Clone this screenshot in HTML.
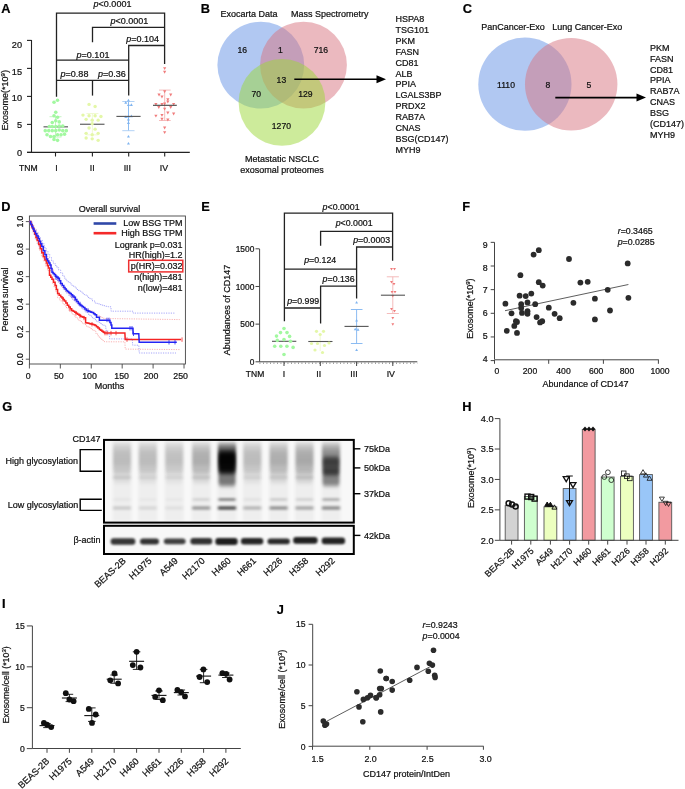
<!DOCTYPE html>
<html><head><meta charset="utf-8"><style>
html,body{margin:0;padding:0;background:#fff;}
svg{display:block;font-family:"Liberation Sans", sans-serif;will-change:transform;}
text{stroke:#111;stroke-width:0.22px;}
</style></head><body>
<svg width="685" height="789" viewBox="0 0 685 789">
<rect width="685" height="789" fill="#fff"/>
<text x="1.3" y="12.5" font-size="12.8" text-anchor="start" font-weight="bold" fill="#000" >A</text>
<line x1="31.5" y1="40" x2="31.5" y2="152.9" stroke="#222" stroke-width="1.1" />
<line x1="27" y1="152.4" x2="31.5" y2="152.4" stroke="#222" stroke-width="1.1" />
<text x="22" y="155.6" font-size="9.2" text-anchor="end" font-weight="normal" fill="#111" >0</text>
<line x1="27" y1="124.4" x2="31.5" y2="124.4" stroke="#222" stroke-width="1.1" />
<text x="22" y="128.3" font-size="9.2" text-anchor="end" font-weight="normal" fill="#111" >5</text>
<line x1="27" y1="96.4" x2="31.5" y2="96.4" stroke="#222" stroke-width="1.1" />
<text x="22" y="101.3" font-size="9.2" text-anchor="end" font-weight="normal" fill="#111" >10</text>
<line x1="27" y1="68.4" x2="31.5" y2="68.4" stroke="#222" stroke-width="1.1" />
<text x="22" y="74.6" font-size="9.2" text-anchor="end" font-weight="normal" fill="#111" >15</text>
<line x1="27" y1="40.4" x2="31.5" y2="40.4" stroke="#222" stroke-width="1.1" />
<text x="22" y="47.5" font-size="9.2" text-anchor="end" font-weight="normal" fill="#111" >20</text>
<line x1="27" y1="152.4" x2="189.8" y2="152.4" stroke="#222" stroke-width="1.1" />
<line x1="55.5" y1="152.4" x2="55.5" y2="156.5" stroke="#222" stroke-width="1.1" />
<line x1="92.4" y1="152.4" x2="92.4" y2="156.5" stroke="#222" stroke-width="1.1" />
<line x1="128.7" y1="152.4" x2="128.7" y2="156.5" stroke="#222" stroke-width="1.1" />
<line x1="164.7" y1="152.4" x2="164.7" y2="156.5" stroke="#222" stroke-width="1.1" />
<text x="19" y="170.5" font-size="8.6" text-anchor="start" font-weight="normal" fill="#111" >TNM</text>
<text x="56.6" y="170.6" font-size="8.8" text-anchor="middle" font-weight="normal" fill="#111" >I</text>
<text x="92.2" y="170.6" font-size="8.8" text-anchor="middle" font-weight="normal" fill="#111" >II</text>
<text x="127.3" y="170.6" font-size="8.8" text-anchor="middle" font-weight="normal" fill="#111" >III</text>
<text x="164" y="170.6" font-size="8.8" text-anchor="middle" font-weight="normal" fill="#111" >IV</text>
<text transform="translate(7.8,100.3) rotate(-90)" font-size="9" text-anchor="middle" fill="#111" >Exosome(*10<tspan dy="-3" font-size="6">9</tspan><tspan dy="3">)</tspan></text>
<polyline points="56.5,96.8 56.5,13.1 164.6,13.1 164.6,64" fill="none" stroke="#222" stroke-width="1.3" />
<polyline points="92.5,42.3 92.5,27.4 164.6,27.4" fill="none" stroke="#222" stroke-width="1.3" />
<polyline points="128.7,95.6 128.7,45.5 164.6,45.5" fill="none" stroke="#222" stroke-width="1.3" />
<line x1="56.5" y1="60.1" x2="128.7" y2="60.1" stroke="#222" stroke-width="1.3" />
<line x1="56.5" y1="80.3" x2="128.7" y2="80.3" stroke="#222" stroke-width="1.3" />
<line x1="92.5" y1="80.3" x2="92.5" y2="95.6" stroke="#222" stroke-width="1.3" />
<text x="93.6" y="7.2" font-size="9" text-anchor="start" font-weight="normal" fill="#111" ><tspan font-style="italic">p</tspan>&lt;0.0001</text>
<text x="110.4" y="24.3" font-size="9" text-anchor="start" font-weight="normal" fill="#111" ><tspan font-style="italic">p</tspan>&lt;0.0001</text>
<text x="126.2" y="41.8" font-size="9" text-anchor="start" font-weight="normal" fill="#111" ><tspan font-style="italic">p</tspan>=0.104</text>
<text x="76.6" y="57.6" font-size="9" text-anchor="start" font-weight="normal" fill="#111" ><tspan font-style="italic">p</tspan>=0.101</text>
<text x="60.6" y="77.4" font-size="9" text-anchor="start" font-weight="normal" fill="#111" ><tspan font-style="italic">p</tspan>=0.88</text>
<text x="98" y="77.4" font-size="9" text-anchor="start" font-weight="normal" fill="#111" ><tspan font-style="italic">p</tspan>=0.36</text>
<line x1="55.5" y1="116.7" x2="55.5" y2="137" stroke="#b8f0b4" stroke-width="0.8" />
<line x1="49.5" y1="116.7" x2="61.5" y2="116.7" stroke="#b8f0b4" stroke-width="0.8" />
<line x1="49.5" y1="137" x2="61.5" y2="137" stroke="#b8f0b4" stroke-width="0.8" />
<line x1="92.4" y1="113.5" x2="92.4" y2="134.8" stroke="#eef9c8" stroke-width="0.8" />
<line x1="86.4" y1="113.5" x2="98.4" y2="113.5" stroke="#eef9c8" stroke-width="0.8" />
<line x1="86.4" y1="134.8" x2="98.4" y2="134.8" stroke="#eef9c8" stroke-width="0.8" />
<line x1="43.5" y1="126.8" x2="68" y2="126.8" stroke="#777" stroke-width="1.4" />
<line x1="80" y1="124.3" x2="104.5" y2="124.3" stroke="#777" stroke-width="1.4" />
<circle cx="54.01" cy="102.28" r="1.8" fill="#a2f8a0" />
<circle cx="57.52" cy="100.29" r="1.8" fill="#a2f8a0" />
<circle cx="55.77" cy="112.32" r="1.8" fill="#a2f8a0" />
<circle cx="54.01" cy="115.82" r="1.8" fill="#a2f8a0" />
<circle cx="57.52" cy="117.23" r="1.8" fill="#a2f8a0" />
<circle cx="52.26" cy="122.48" r="1.8" fill="#a2f8a0" />
<circle cx="55.77" cy="120.73" r="1.8" fill="#a2f8a0" />
<circle cx="59.27" cy="121.9" r="1.8" fill="#a2f8a0" />
<circle cx="49.34" cy="126.57" r="1.8" fill="#a2f8a0" />
<circle cx="52.26" cy="126.57" r="1.8" fill="#a2f8a0" />
<circle cx="55.77" cy="126.57" r="1.8" fill="#a2f8a0" />
<circle cx="59.27" cy="125.99" r="1.8" fill="#a2f8a0" />
<circle cx="62.77" cy="125.99" r="1.8" fill="#a2f8a0" />
<circle cx="45.26" cy="130.66" r="1.8" fill="#a2f8a0" />
<circle cx="48.76" cy="130.66" r="1.8" fill="#a2f8a0" />
<circle cx="52.26" cy="130.66" r="1.8" fill="#a2f8a0" />
<circle cx="55.77" cy="130.66" r="1.8" fill="#a2f8a0" />
<circle cx="59.27" cy="130.07" r="1.8" fill="#a2f8a0" />
<circle cx="62.77" cy="130.66" r="1.8" fill="#a2f8a0" />
<circle cx="66.28" cy="130.66" r="1.8" fill="#a2f8a0" />
<circle cx="47.01" cy="134.74" r="1.8" fill="#a2f8a0" />
<circle cx="50.51" cy="136.5" r="1.8" fill="#a2f8a0" />
<circle cx="54.01" cy="136.5" r="1.8" fill="#a2f8a0" />
<circle cx="57.52" cy="134.74" r="1.8" fill="#a2f8a0" />
<circle cx="61.02" cy="134.74" r="1.8" fill="#a2f8a0" />
<circle cx="64.53" cy="134.16" r="1.8" fill="#a2f8a0" />
<circle cx="54.01" cy="139.42" r="1.8" fill="#a2f8a0" />
<circle cx="57.52" cy="140.35" r="1.8" fill="#a2f8a0" />
<circle cx="89.05" cy="104.38" r="1.7" fill="#e4f7a8" />
<circle cx="95.12" cy="106.48" r="1.7" fill="#e4f7a8" />
<circle cx="82.98" cy="115.12" r="1.7" fill="#e4f7a8" />
<circle cx="89.05" cy="115.82" r="1.7" fill="#e4f7a8" />
<circle cx="95.12" cy="115.82" r="1.7" fill="#e4f7a8" />
<circle cx="100.96" cy="116.53" r="1.7" fill="#e4f7a8" />
<circle cx="86.13" cy="119.33" r="1.7" fill="#e4f7a8" />
<circle cx="92.2" cy="120.15" r="1.7" fill="#e4f7a8" />
<circle cx="98.16" cy="120.15" r="1.7" fill="#e4f7a8" />
<circle cx="92.2" cy="123.65" r="1.7" fill="#e4f7a8" />
<circle cx="89.05" cy="127.97" r="1.7" fill="#e4f7a8" />
<circle cx="95.12" cy="129.14" r="1.7" fill="#e4f7a8" />
<circle cx="86.13" cy="133.34" r="1.7" fill="#e4f7a8" />
<circle cx="98.16" cy="133.34" r="1.7" fill="#e4f7a8" />
<circle cx="92.2" cy="134.74" r="1.7" fill="#e4f7a8" />
<circle cx="86.13" cy="138.01" r="1.7" fill="#e4f7a8" />
<circle cx="92.2" cy="138.83" r="1.7" fill="#e4f7a8" />
<circle cx="98.16" cy="140.35" r="1.7" fill="#e4f7a8" />
<line x1="128.5" y1="101.5" x2="128.5" y2="130.7" stroke="#7fb4f0" stroke-width="0.9" />
<line x1="122.3" y1="101.5" x2="134.5" y2="101.5" stroke="#a9cdf5" stroke-width="0.9" />
<line x1="122.3" y1="130.7" x2="134.5" y2="130.7" stroke="#a9cdf5" stroke-width="0.9" />
<polygon points="128.45,98.69 126.93,101.41 129.97,101.41" fill="#7fb4f0"/>
<polygon points="125.77,101.03 124.25,103.75 127.29,103.75" fill="#7fb4f0"/>
<polygon points="128.45,103.36 126.93,106.08 129.97,106.08" fill="#7fb4f0"/>
<polygon points="131.37,103.36 129.85,106.08 132.89,106.08" fill="#7fb4f0"/>
<polygon points="125.77,115.39 124.25,118.11 127.29,118.11" fill="#7fb4f0"/>
<polygon points="128.45,114.81 126.93,117.53 129.97,117.53" fill="#7fb4f0"/>
<polygon points="131.37,114.46 129.85,117.18 132.89,117.18" fill="#7fb4f0"/>
<polygon points="128.45,117.73 126.93,120.45 129.97,120.45" fill="#7fb4f0"/>
<polygon points="128.45,121.23 126.93,123.95 129.97,123.95" fill="#7fb4f0"/>
<polygon points="128.45,134.9 126.93,137.62 129.97,137.62" fill="#7fb4f0"/>
<polygon points="128.45,141.9 126.93,144.62 129.97,144.62" fill="#7fb4f0"/>
<line x1="116.4" y1="116.4" x2="140.6" y2="116.4" stroke="#555" stroke-width="1.1" />
<line x1="164.7" y1="90.1" x2="164.7" y2="120.5" stroke="#f4b4b4" stroke-width="0.9" />
<line x1="159" y1="90.1" x2="170.7" y2="90.1" stroke="#f4b4b4" stroke-width="0.9" />
<line x1="159" y1="120.5" x2="170.7" y2="120.5" stroke="#f4b4b4" stroke-width="0.9" />
<polygon points="164.66,70.11 163.04,67.22 166.27,67.22" fill="#f07c7c"/>
<polygon points="164.66,73.73 163.04,70.84 166.27,70.84" fill="#f07c7c"/>
<polygon points="164.66,93.23 163.04,90.34 166.27,90.34" fill="#f07c7c"/>
<polygon points="159.05,96.5 157.44,93.61 160.67,93.61" fill="#f07c7c"/>
<polygon points="170.73,96.5 169.11,93.61 172.34,93.61" fill="#f07c7c"/>
<polygon points="161.97,98.49 160.36,95.6 163.59,95.6" fill="#f07c7c"/>
<polygon points="167.81,101.17 166.2,98.28 169.43,98.28" fill="#f07c7c"/>
<polygon points="167.81,103.51 166.2,100.62 169.43,100.62" fill="#f07c7c"/>
<polygon points="164.66,105.5 163.04,102.61 166.27,102.61" fill="#f07c7c"/>
<polygon points="155.9,105.85 154.28,102.96 157.51,102.96" fill="#f07c7c"/>
<polygon points="161.97,105.85 160.36,102.96 163.59,102.96" fill="#f07c7c"/>
<polygon points="173.65,105.85 172.03,102.96 175.26,102.96" fill="#f07c7c"/>
<polygon points="158.82,109 157.2,106.11 160.43,106.11" fill="#f07c7c"/>
<polygon points="170.73,109 169.11,106.11 172.34,106.11" fill="#f07c7c"/>
<polygon points="164.66,110.52 163.04,107.63 166.27,107.63" fill="#f07c7c"/>
<polygon points="167.81,114.49 166.2,111.6 169.43,111.6" fill="#f07c7c"/>
<polygon points="155.9,117.52 154.28,114.63 157.51,114.63" fill="#f07c7c"/>
<polygon points="161.97,116.82 160.36,113.93 163.59,113.93" fill="#f07c7c"/>
<polygon points="173.65,115.42 172.03,112.53 175.26,112.53" fill="#f07c7c"/>
<polygon points="161.97,120.68 160.36,117.79 163.59,117.79" fill="#f07c7c"/>
<polygon points="167.81,121.5 166.2,118.61 169.43,118.61" fill="#f07c7c"/>
<polygon points="164.66,129.44 163.04,126.55 166.27,126.55" fill="#f07c7c"/>
<polygon points="164.66,134.11 163.04,131.22 166.27,131.22" fill="#f07c7c"/>
<line x1="153" y1="105.3" x2="176.8" y2="105.3" stroke="#444" stroke-width="1.1" />
<text x="200.8" y="12.5" font-size="12.8" text-anchor="start" font-weight="bold" fill="#000" >B</text>
<text x="249" y="17" font-size="9" text-anchor="middle" font-weight="normal" fill="#111" >Exocarta Data</text>
<text x="329.8" y="17" font-size="9" text-anchor="middle" font-weight="normal" fill="#111" >Mass Spectrometry</text>
<g>
<circle cx="260.8" cy="65.1" r="43.4" fill="rgb(99,146,230)" fill-opacity="0.5"/>
<circle cx="303.5" cy="65.1" r="43.4" fill="rgb(216,116,128)" fill-opacity="0.5"/>
<circle cx="282" cy="102.3" r="43.4" fill="rgb(155,215,55)" fill-opacity="0.5"/>
</g>
<text x="242.3" y="53.3" font-size="8.6" text-anchor="middle" font-weight="normal" fill="#111" >16</text>
<text x="280.3" y="53.3" font-size="8.6" text-anchor="middle" font-weight="normal" fill="#111" >1</text>
<text x="320.8" y="53.3" font-size="8.6" text-anchor="middle" font-weight="normal" fill="#111" >716</text>
<text x="281.4" y="82.7" font-size="8.6" text-anchor="middle" font-weight="normal" fill="#111" >13</text>
<text x="256.3" y="96.8" font-size="8.6" text-anchor="middle" font-weight="normal" fill="#111" >70</text>
<text x="305.4" y="96.8" font-size="8.6" text-anchor="middle" font-weight="normal" fill="#111" >129</text>
<text x="281.4" y="128.6" font-size="8.6" text-anchor="middle" font-weight="normal" fill="#111" >1270</text>
<line x1="294.3" y1="79.3" x2="378" y2="79.3" stroke="#000" stroke-width="1.6" />
<polygon points="386,79.3 376.5,75.3 376.5,83.3" fill="#000"/>
<text x="282" y="162.2" font-size="9" text-anchor="middle" font-weight="normal" fill="#111" >Metastatic NSCLC</text>
<text x="282" y="172.5" font-size="9" text-anchor="middle" font-weight="normal" fill="#111" >exosomal proteomes</text>
<text x="395.5" y="22" font-size="9" text-anchor="start" font-weight="normal" fill="#111" >HSPA8</text>
<text x="395.5" y="32.9" font-size="9" text-anchor="start" font-weight="normal" fill="#111" >TSG101</text>
<text x="395.5" y="43.8" font-size="9" text-anchor="start" font-weight="normal" fill="#111" >PKM</text>
<text x="395.5" y="54.7" font-size="9" text-anchor="start" font-weight="normal" fill="#111" >FASN</text>
<text x="395.5" y="65.6" font-size="9" text-anchor="start" font-weight="normal" fill="#111" >CD81</text>
<text x="395.5" y="76.5" font-size="9" text-anchor="start" font-weight="normal" fill="#111" >ALB</text>
<text x="395.5" y="87.4" font-size="9" text-anchor="start" font-weight="normal" fill="#111" >PPIA</text>
<text x="395.5" y="98.3" font-size="9" text-anchor="start" font-weight="normal" fill="#111" >LGALS3BP</text>
<text x="395.5" y="109.2" font-size="9" text-anchor="start" font-weight="normal" fill="#111" >PRDX2</text>
<text x="395.5" y="120.1" font-size="9" text-anchor="start" font-weight="normal" fill="#111" >RAB7A</text>
<text x="395.5" y="131" font-size="9" text-anchor="start" font-weight="normal" fill="#111" >CNAS</text>
<text x="395.5" y="141.9" font-size="9" text-anchor="start" font-weight="normal" fill="#111" >BSG(CD147)</text>
<text x="395.5" y="152.8" font-size="9" text-anchor="start" font-weight="normal" fill="#111" >MYH9</text>
<text x="462.8" y="12.5" font-size="12.8" text-anchor="start" font-weight="bold" fill="#000" >C</text>
<text x="513" y="29.5" font-size="9" text-anchor="middle" font-weight="normal" fill="#111" >PanCancer-Exo</text>
<text x="587.3" y="29.5" font-size="9" text-anchor="middle" font-weight="normal" fill="#111" >Lung Cancer-Exo</text>
<circle cx="524.9" cy="84.2" r="46.6" fill="rgb(99,146,230)" fill-opacity="0.5"/>
<circle cx="571.2" cy="84.2" r="46.2" fill="rgb(216,116,128)" fill-opacity="0.5"/>
<text x="506" y="87.5" font-size="8.6" text-anchor="middle" font-weight="normal" fill="#111" >1110</text>
<text x="548" y="87.5" font-size="8.6" text-anchor="middle" font-weight="normal" fill="#111" >8</text>
<text x="588.8" y="87.5" font-size="8.6" text-anchor="middle" font-weight="normal" fill="#111" >5</text>
<line x1="555.3" y1="97.6" x2="637" y2="97.6" stroke="#000" stroke-width="1.6" />
<polygon points="646,97.6 636.5,93.6 636.5,101.6" fill="#000"/>
<text x="649.9" y="50.8" font-size="9" text-anchor="start" font-weight="normal" fill="#111" >PKM</text>
<text x="649.9" y="61.65" font-size="9" text-anchor="start" font-weight="normal" fill="#111" >FASN</text>
<text x="649.9" y="72.5" font-size="9" text-anchor="start" font-weight="normal" fill="#111" >CD81</text>
<text x="649.9" y="83.35" font-size="9" text-anchor="start" font-weight="normal" fill="#111" >PPIA</text>
<text x="649.9" y="94.2" font-size="9" text-anchor="start" font-weight="normal" fill="#111" >RAB7A</text>
<text x="649.9" y="105.05" font-size="9" text-anchor="start" font-weight="normal" fill="#111" >CNAS</text>
<text x="649.9" y="115.9" font-size="9" text-anchor="start" font-weight="normal" fill="#111" >BSG</text>
<text x="649.9" y="126.75" font-size="9" text-anchor="start" font-weight="normal" fill="#111" >(CD147)</text>
<text x="649.9" y="137.6" font-size="9" text-anchor="start" font-weight="normal" fill="#111" >MYH9</text>
<text x="1.3" y="211.4" font-size="12.8" text-anchor="start" font-weight="bold" fill="#000" >D</text>
<text x="109.5" y="211.8" font-size="9" text-anchor="middle" font-weight="normal" fill="#111" >Overall survival</text>
<rect x="29.4" y="216" width="156" height="148" fill="none" stroke="#444" stroke-width="0.9"/>
<line x1="25.8" y1="359.2" x2="29.4" y2="359.2" stroke="#444" stroke-width="0.9" />
<text transform="translate(23.2,359.2) rotate(-90)" font-size="8.6" text-anchor="middle" fill="#111" >0.0</text>
<line x1="25.8" y1="331.68" x2="29.4" y2="331.68" stroke="#444" stroke-width="0.9" />
<text transform="translate(23.2,331.68) rotate(-90)" font-size="8.6" text-anchor="middle" fill="#111" >0.2</text>
<line x1="25.8" y1="304.16" x2="29.4" y2="304.16" stroke="#444" stroke-width="0.9" />
<text transform="translate(23.2,304.16) rotate(-90)" font-size="8.6" text-anchor="middle" fill="#111" >0.4</text>
<line x1="25.8" y1="276.64" x2="29.4" y2="276.64" stroke="#444" stroke-width="0.9" />
<text transform="translate(23.2,276.64) rotate(-90)" font-size="8.6" text-anchor="middle" fill="#111" >0.6</text>
<line x1="25.8" y1="249.12" x2="29.4" y2="249.12" stroke="#444" stroke-width="0.9" />
<text transform="translate(23.2,249.12) rotate(-90)" font-size="8.6" text-anchor="middle" fill="#111" >0.8</text>
<line x1="25.8" y1="221.6" x2="29.4" y2="221.6" stroke="#444" stroke-width="0.9" />
<text transform="translate(23.2,221.6) rotate(-90)" font-size="8.6" text-anchor="middle" fill="#111" >1.0</text>
<line x1="29.4" y1="364" x2="29.4" y2="368.5" stroke="#444" stroke-width="0.9" />
<text x="28.2" y="378.6" font-size="8.8" text-anchor="middle" font-weight="normal" fill="#111" >0</text>
<line x1="60.33" y1="364" x2="60.33" y2="368.5" stroke="#444" stroke-width="0.9" />
<text x="58.8" y="378.6" font-size="8.8" text-anchor="middle" font-weight="normal" fill="#111" >50</text>
<line x1="91.25" y1="364" x2="91.25" y2="368.5" stroke="#444" stroke-width="0.9" />
<text x="89.5" y="378.6" font-size="8.8" text-anchor="middle" font-weight="normal" fill="#111" >100</text>
<line x1="122.18" y1="364" x2="122.18" y2="368.5" stroke="#444" stroke-width="0.9" />
<text x="121.6" y="378.6" font-size="8.8" text-anchor="middle" font-weight="normal" fill="#111" >150</text>
<line x1="153.1" y1="364" x2="153.1" y2="368.5" stroke="#444" stroke-width="0.9" />
<text x="151" y="378.6" font-size="8.8" text-anchor="middle" font-weight="normal" fill="#111" >200</text>
<line x1="184.03" y1="364" x2="184.03" y2="368.5" stroke="#444" stroke-width="0.9" />
<text x="180.6" y="378.6" font-size="8.8" text-anchor="middle" font-weight="normal" fill="#111" >250</text>
<text x="109.5" y="388.5" font-size="9" text-anchor="middle" font-weight="normal" fill="#111" >Months</text>
<text transform="translate(7.8,299.4) rotate(-90)" font-size="9" text-anchor="middle" fill="#111" >Percent survival</text>
<polyline points="29.5,221.6 31.68,221.6 31.68,225.3 33.85,225.3 33.85,229 36.03,229 36.03,232.7 38.2,232.7 38.2,236.4 40.23,236.4 40.23,240.13 42.27,240.13 42.27,243.87 44.3,243.87 44.3,247.6 46.1,247.6 46.1,250.92 47.9,250.92 47.9,254.25 49.7,254.25 49.7,257.57 51.5,257.57 51.5,260.9 53.3,260.9 53.3,263.2 55.1,263.2 55.1,265.5 56.9,265.5 56.9,267.8 58.7,267.8 58.7,270.1 60.73,270.1 60.73,273.17 62.77,273.17 62.77,276.23 64.8,276.23 64.8,279.3 66.58,279.3 66.58,280.82 68.35,280.82 68.35,282.35 70.12,282.35 70.12,283.88 71.9,283.88 71.9,285.4 73.6,285.4 73.6,286.77 75.3,286.77 75.3,288.13 77,288.13 77,289.5 78.8,289.5 78.8,290.77 80.6,290.77 80.6,292.05 82.4,292.05 82.4,293.33 84.2,293.33 84.2,294.6 86.13,294.6 86.13,296.07 88.07,296.07 88.07,297.53 90,297.53 90,299 92.5,299 92.5,301.05 95,301.05 95,303.1 97.2,303.1 97.2,303.85 99.4,303.85 99.4,304.6 101.58,304.6 101.58,305.15 103.75,305.15 103.75,305.7 105.92,305.7 105.92,306.25 108.1,306.25 108.1,306.8 111,306.8 111,311.2 132.2,311.2 133,311.2 133,313.1 175,313.1" fill="none" stroke="#9090f8" stroke-width="0.8" stroke-dasharray="1.2 1.2"/>
<polyline points="29.5,221.6 31.8,221.6 31.8,228.5 34.1,228.5 34.1,235.4 35.8,235.4 35.8,239.47 37.5,239.47 37.5,243.53 39.2,243.53 39.2,247.6 41.27,247.6 41.27,252.03 43.33,252.03 43.33,256.47 45.4,256.47 45.4,260.9 47.1,260.9 47.1,264.3 48.8,264.3 48.8,267.7 50.5,267.7 50.5,271.1 52.2,271.1 52.2,273.83 53.9,273.83 53.9,276.57 55.6,276.57 55.6,279.3 57.63,279.3 57.63,282.03 59.67,282.03 59.67,284.77 61.7,284.77 61.7,287.5 63.4,287.5 63.4,289.53 65.1,289.53 65.1,291.57 66.8,291.57 66.8,293.6 68.6,293.6 68.6,295.45 70.4,295.45 70.4,297.3 72.2,297.3 72.2,299.15 74,299.15 74,301 76,301 76,303 78,303 78,305 80,305 80,307 82,307 82,309 84,309 84,310.75 86,310.75 86,312.5 88,312.5 88,314.25 90,314.25 90,316 92,316 92,317.67 94,317.67 94,319.33 96,319.33 96,321 98,321 98,322.25 100,322.25 100,323.5 102,323.5 102,324.75 104,324.75 104,326 105.87,326 105.87,330.3 107.73,330.3 107.73,334.6 109.6,334.6 109.6,338.9 132.2,338.9 132.7,345.2 138.8,345.2 139.2,353 176,353" fill="none" stroke="#9090f8" stroke-width="0.8" stroke-dasharray="1.2 1.2"/>
<polyline points="29.5,221.6 31.73,221.6 31.73,225.5 33.97,225.5 33.97,229.4 36.2,229.4 36.2,233.3 37.9,233.3 37.9,237.4 39.6,237.4 39.6,241.5 41.3,241.5 41.3,245.6 43,245.6 43,249.33 44.7,249.33 44.7,253.07 46.4,253.07 46.4,256.8 48.1,256.8 48.1,260.9 49.8,260.9 49.8,265 51.5,265 51.5,269.1 53.55,269.1 53.55,273.2 55.6,273.2 55.6,277.3 57.3,277.3 57.3,280 59,280 59,282.7 60.7,282.7 60.7,285.4 62.4,285.4 62.4,287.47 64.1,287.47 64.1,289.53 65.8,289.53 65.8,291.6 67.85,291.6 67.85,293.7 69.9,293.7 69.9,295.8 71.95,295.8 71.95,297.9 74,297.9 74,300 76,300 76,301.75 78,301.75 78,303.5 80,303.5 80,305.25 82,305.25 82,307 84,307 84,308 86,308 86,309 88,309 88,310 90,310 90,311 92.5,311 92.5,312.9 95,312.9 95,314.8 97.2,314.8 97.2,315.73 99.4,315.73 99.4,316.65 101.6,316.65 101.6,317.57 103.8,317.57 103.8,318.5 105.8,318.5 105.8,318.53 107.79,318.53 107.79,318.56 109.79,318.56 109.79,318.59 111.79,318.59 111.79,318.62 113.79,318.62 113.79,318.64 115.78,318.64 115.78,318.67 117.78,318.67 117.78,318.7 119.78,318.7 119.78,318.73 121.78,318.73 121.78,318.76 123.77,318.76 123.77,318.79 125.77,318.79 125.77,318.82 127.77,318.82 127.77,318.85 129.77,318.85 129.77,318.88 131.76,318.88 131.76,318.91 133.76,318.91 133.76,318.93 135.76,318.93 135.76,318.96 137.76,318.96 137.76,318.99 139.75,318.99 139.75,319.02 141.75,319.02 141.75,319.05 143.75,319.05 143.75,319.08 145.74,319.08 145.74,319.11 147.74,319.11 147.74,319.14 149.74,319.14 149.74,319.17 151.74,319.17 151.74,319.19 153.73,319.19 153.73,319.22 155.73,319.22 155.73,319.25 157.73,319.25 157.73,319.28 159.73,319.28 159.73,319.31 161.72,319.31 161.72,319.34 163.72,319.34 163.72,319.37 165.72,319.37 165.72,319.4 167.72,319.4 167.72,319.43 169.71,319.43 169.71,319.46 171.71,319.46 171.71,319.48 173.71,319.48 173.71,319.51 175.71,319.51 175.71,319.54 177.7,319.54 177.7,319.57 179.7,319.57 179.7,319.6" fill="none" stroke="#f8a0a0" stroke-width="0.8" stroke-dasharray="1.2 1.2"/>
<polyline points="29.5,221.6 31.3,221.6 31.3,227.45 33.1,227.45 33.1,233.3 35.15,233.3 35.15,238.95 37.2,238.95 37.2,244.6 39.25,244.6 39.25,250.2 41.3,250.2 41.3,255.8 43.35,255.8 43.35,260.9 45.4,260.9 45.4,266 47.45,266 47.45,270.6 49.5,270.6 49.5,275.2 51,275.2 51,279.3 52.5,279.3 52.5,283.4 54.05,283.4 54.05,287.5 55.6,287.5 55.6,291.6 57.6,291.6 57.6,297.7 59.4,297.7 59.4,299.8 61.2,299.8 61.2,301.9 63,301.9 63,304 64.75,304 64.75,306 66.5,306 66.5,308 68.25,308 68.25,310 70,310 70,312 72,312 72,314 74,314 74,316 76,316 76,318 78,318 78,320 80,320 80,321.5 82,321.5 82,323 84,323 84,324.5 86,324.5 86,326 88,326 88,327.25 90,327.25 90,328.5 92,328.5 92,329.75 94,329.75 94,331 95.8,331 95.8,333.4 97.6,333.4 97.6,335.8 99.4,335.8 99.4,338.2 101.1,338.2 101.1,339.4 102.8,339.4 102.8,340.6 104.5,340.6 104.5,341.8 124.9,341.8 125.2,349.1 179.7,349.6" fill="none" stroke="#f8a0a0" stroke-width="0.8" stroke-dasharray="1.2 1.2"/>
<polyline points="29.5,221.6 30.87,221.6 30.87,224.83 32.23,224.83 32.23,228.07 33.6,228.07 33.6,231.3 34.8,231.3 34.8,234.37 36,234.37 36,237.43 37.2,237.43 37.2,240.5 38.75,240.5 38.75,244.6 40.3,244.6 40.3,248.7 41.8,248.7 41.8,252.75 43.3,252.75 43.3,256.8 44.85,256.8 44.85,259.9 46.4,259.9 46.4,263 47.4,263 47.4,265.55 48.4,265.55 48.4,268.1 49.5,268.1 49.5,275.2 50.75,275.2 50.75,277.25 52,277.25 52,279.3 53.55,279.3 53.55,282.35 55.1,282.35 55.1,285.4 56.35,285.4 56.35,289.5 57.6,289.5 57.6,293.6 59.15,293.6 59.15,295.15 60.7,295.15 60.7,296.7 61.93,296.7 61.93,298.1 63.17,298.1 63.17,299.5 64.4,299.5 64.4,300.9 65.85,300.9 65.85,303.1 67.3,303.1 67.3,305.3 68.77,305.3 68.77,307 70.23,307 70.23,308.7 71.7,308.7 71.7,310.4 73.17,310.4 73.17,311.37 74.63,311.37 74.63,312.33 76.1,312.33 76.1,313.3 77.57,313.3 77.57,314.27 79.03,314.27 79.03,315.23 80.5,315.23 80.5,316.2 81.7,316.2 81.7,316.7 82.9,316.7 82.9,317.2 84.1,317.2 84.1,317.7 85.6,317.7 85.6,322.8 86.92,322.8 86.92,323.08 88.24,323.08 88.24,323.36 89.56,323.36 89.56,323.64 90.88,323.64 90.88,323.92 92.2,323.92 92.2,324.2 93.6,324.2 93.6,324.85 95,324.85 95,325.5 96.47,325.5 96.47,326.8 97.93,326.8 97.93,328.1 99.4,328.1 99.4,329.4 100.68,329.4 100.68,330.32 101.95,330.32 101.95,331.25 103.22,331.25 103.22,332.18 104.5,332.18 104.5,333.1 124.9,333.1 125.2,339.6 181.1,339.6" fill="none" stroke="#f42424" stroke-width="1.5" />
<polyline points="29.5,221.6 30.65,221.6 30.65,224.03 31.8,224.03 31.8,226.45 32.95,226.45 32.95,228.88 34.1,228.88 34.1,231.3 35.47,231.3 35.47,233.67 36.83,233.67 36.83,236.03 38.2,236.03 38.2,238.4 39.4,238.4 39.4,241.13 40.6,241.13 40.6,243.87 41.8,243.87 41.8,246.6 43.35,246.6 43.35,250.7 44.9,250.7 44.9,254.8 46.4,254.8 46.4,258.9 47.6,258.9 47.6,260.93 48.8,260.93 48.8,262.97 50,262.97 50,265 51,265 51,268.6 52,268.6 52,272.2 53.2,272.2 53.2,273.53 54.4,273.53 54.4,274.87 55.6,274.87 55.6,276.2 56.85,276.2 56.85,277.25 58.1,277.25 58.1,278.3 59.4,278.3 59.4,280.85 60.7,280.85 60.7,283.4 62.25,283.4 62.25,285.45 63.8,285.45 63.8,287.5 65.05,287.5 65.05,289.05 66.3,289.05 66.3,290.6 67.5,290.6 67.5,291.6 68.7,291.6 68.7,292.6 69.9,292.6 69.9,293.6 71.27,293.6 71.27,294.8 72.63,294.8 72.63,296 74,296 74,297.2 75.4,297.2 75.4,299.6 76.85,299.6 76.85,301.6 78.3,301.6 78.3,303.6 79.58,303.6 79.58,304.55 80.85,304.55 80.85,305.5 82.12,305.5 82.12,306.45 83.4,306.45 83.4,307.4 84.85,307.4 84.85,308.9 86.3,308.9 86.3,310.4 87.48,310.4 87.48,310.84 88.66,310.84 88.66,311.28 89.84,311.28 89.84,311.72 91.02,311.72 91.02,312.16 92.2,312.16 92.2,312.6 93.6,312.6 93.6,313.65 95,313.65 95,314.7 96.5,314.7 96.5,317.2 99.4,317.2 99.4,320.2 108.9,320.2 109.95,320.2 109.95,322.6 111,322.6 111,325 111.8,325 111.8,328.2 132.2,328.2 133,328.2 133,333.8 138.8,333.8 139.2,342.3 176.8,342.3" fill="none" stroke="#2424f4" stroke-width="1.5" />
<line x1="56" y1="275.3" x2="56" y2="279.7" stroke="#2424f4" stroke-width="0.8" />
<line x1="58" y1="276.3" x2="58" y2="280.7" stroke="#2424f4" stroke-width="0.8" />
<line x1="72" y1="293.8" x2="72" y2="298.2" stroke="#2424f4" stroke-width="0.8" />
<line x1="75" y1="296.8" x2="75" y2="301.2" stroke="#2424f4" stroke-width="0.8" />
<line x1="80" y1="301.8" x2="80" y2="306.2" stroke="#2424f4" stroke-width="0.8" />
<line x1="88" y1="308.3" x2="88" y2="312.7" stroke="#2424f4" stroke-width="0.8" />
<line x1="107" y1="317.7" x2="107" y2="322.1" stroke="#2424f4" stroke-width="0.8" />
<line x1="109" y1="317.7" x2="109" y2="322.1" stroke="#2424f4" stroke-width="0.8" />
<line x1="130" y1="326" x2="130" y2="330.4" stroke="#2424f4" stroke-width="0.8" />
<line x1="132" y1="326" x2="132" y2="330.4" stroke="#2424f4" stroke-width="0.8" />
<line x1="133.5" y1="331.6" x2="133.5" y2="336" stroke="#2424f4" stroke-width="0.8" />
<line x1="169" y1="340.1" x2="169" y2="344.5" stroke="#2424f4" stroke-width="0.8" />
<line x1="175" y1="340.1" x2="175" y2="344.5" stroke="#2424f4" stroke-width="0.8" />
<line x1="63" y1="296.8" x2="63" y2="301.2" stroke="#f42424" stroke-width="0.8" />
<line x1="70" y1="306.8" x2="70" y2="311.2" stroke="#f42424" stroke-width="0.8" />
<line x1="76" y1="311.1" x2="76" y2="315.5" stroke="#f42424" stroke-width="0.8" />
<line x1="80" y1="313.8" x2="80" y2="318.2" stroke="#f42424" stroke-width="0.8" />
<line x1="84" y1="315.8" x2="84" y2="320.2" stroke="#f42424" stroke-width="0.8" />
<line x1="92" y1="322" x2="92" y2="326.4" stroke="#f42424" stroke-width="0.8" />
<line x1="105" y1="330.9" x2="105" y2="335.3" stroke="#f42424" stroke-width="0.8" />
<line x1="107" y1="330.9" x2="107" y2="335.3" stroke="#f42424" stroke-width="0.8" />
<line x1="111" y1="330.9" x2="111" y2="335.3" stroke="#f42424" stroke-width="0.8" />
<line x1="116" y1="330.9" x2="116" y2="335.3" stroke="#f42424" stroke-width="0.8" />
<line x1="127" y1="337.4" x2="127" y2="341.8" stroke="#f42424" stroke-width="0.8" />
<line x1="182" y1="337.4" x2="182" y2="341.8" stroke="#f42424" stroke-width="0.8" />
<line x1="93.6" y1="223.5" x2="116.3" y2="223.5" stroke="#3048a8" stroke-width="2.6" />
<line x1="93.6" y1="233.2" x2="116.3" y2="233.2" stroke="#f42a2a" stroke-width="2.6" />
<text x="182.6" y="225.8" font-size="9" text-anchor="end" font-weight="normal" fill="#111" >Low BSG TPM</text>
<text x="182.6" y="236.2" font-size="9" text-anchor="end" font-weight="normal" fill="#111" >High BSG TPM</text>
<text x="182.6" y="247.7" font-size="9" text-anchor="end" font-weight="normal" fill="#111" >Logrank p=0.031</text>
<text x="182.6" y="258.2" font-size="9" text-anchor="end" font-weight="normal" fill="#111" >HR(high)=1.2</text>
<text x="182.6" y="268.8" font-size="9" text-anchor="end" font-weight="normal" fill="#111" >p(HR)=0.032</text>
<text x="182.6" y="279.9" font-size="9" text-anchor="end" font-weight="normal" fill="#111" >n(high)=481</text>
<text x="182.6" y="290.9" font-size="9" text-anchor="end" font-weight="normal" fill="#111" >n(low)=481</text>
<rect x="128.7" y="260.3" width="54.1" height="11.6" fill="none" stroke="#ee3030" stroke-width="1.5"/>
<text x="201.3" y="211.4" font-size="12.8" text-anchor="start" font-weight="bold" fill="#000" >E</text>
<line x1="259.6" y1="249" x2="259.6" y2="361.8" stroke="#444" stroke-width="1" />
<line x1="255.5" y1="361.8" x2="259.6" y2="361.8" stroke="#444" stroke-width="1" />
<text x="254.3" y="364.9" font-size="8.4" text-anchor="end" font-weight="normal" fill="#111" >0</text>
<line x1="255.5" y1="324.13" x2="259.6" y2="324.13" stroke="#444" stroke-width="1" />
<text x="254.3" y="327.24" font-size="8.4" text-anchor="end" font-weight="normal" fill="#111" >500</text>
<line x1="255.5" y1="286.47" x2="259.6" y2="286.47" stroke="#444" stroke-width="1" />
<text x="254.3" y="289.57" font-size="8.4" text-anchor="end" font-weight="normal" fill="#111" >1000</text>
<line x1="255.5" y1="248.81" x2="259.6" y2="248.81" stroke="#444" stroke-width="1" />
<text x="254.3" y="251.91" font-size="8.4" text-anchor="end" font-weight="normal" fill="#111" >1500</text>
<line x1="259.6" y1="361.8" x2="417.3" y2="361.8" stroke="#444" stroke-width="1" />
<line x1="259.6" y1="363.2" x2="417.3" y2="363.2" stroke="#777" stroke-width="1.6" stroke-dasharray="0.7 2.8"/>
<line x1="284" y1="361.8" x2="284" y2="366" stroke="#444" stroke-width="1" />
<line x1="320.3" y1="361.8" x2="320.3" y2="366" stroke="#444" stroke-width="1" />
<line x1="356.6" y1="361.8" x2="356.6" y2="366" stroke="#444" stroke-width="1" />
<line x1="392.8" y1="361.8" x2="392.8" y2="366" stroke="#444" stroke-width="1" />
<text x="245.8" y="376.8" font-size="8.5" text-anchor="start" font-weight="normal" fill="#111" >TNM</text>
<text x="284" y="377" font-size="8.8" text-anchor="middle" font-weight="normal" fill="#111" >I</text>
<text x="318.7" y="377" font-size="8.8" text-anchor="middle" font-weight="normal" fill="#111" >II</text>
<text x="354" y="377" font-size="8.8" text-anchor="middle" font-weight="normal" fill="#111" >III</text>
<text x="390.8" y="377" font-size="8.8" text-anchor="middle" font-weight="normal" fill="#111" >IV</text>
<text transform="translate(229.5,310) rotate(-90)" font-size="9" text-anchor="middle" fill="#111" >Abundances of CD147</text>
<polyline points="284.4,321.2 284.4,213.2 392.6,213.2 392.6,260.7" fill="none" stroke="#222" stroke-width="1.3" />
<polyline points="320.6,245.8 320.6,231.3 392.6,231.3" fill="none" stroke="#222" stroke-width="1.3" />
<polyline points="356.6,298.5 356.6,247 392.6,247" fill="none" stroke="#222" stroke-width="1.3" />
<line x1="284.4" y1="269.1" x2="356.6" y2="269.1" stroke="#222" stroke-width="1.3" />
<polyline points="320.6,323.6 320.6,286.1 356.6,286.1" fill="none" stroke="#222" stroke-width="1.3" />
<polyline points="284.4,308 320.6,308" fill="none" stroke="#222" stroke-width="1.3" />
<text x="322.6" y="210.1" font-size="8.8" text-anchor="start" font-weight="normal" fill="#111" ><tspan font-style="italic">p</tspan>&lt;0.0001</text>
<text x="335.7" y="226.2" font-size="8.8" text-anchor="start" font-weight="normal" fill="#111" ><tspan font-style="italic">p</tspan>&lt;0.0001</text>
<text x="353.2" y="242.9" font-size="8.8" text-anchor="start" font-weight="normal" fill="#111" ><tspan font-style="italic">p</tspan>=0.0003</text>
<text x="304.2" y="263.4" font-size="8.8" text-anchor="start" font-weight="normal" fill="#111" ><tspan font-style="italic">p</tspan>=0.124</text>
<text x="322.6" y="281.9" font-size="8.8" text-anchor="start" font-weight="normal" fill="#111" ><tspan font-style="italic">p</tspan>=0.136</text>
<text x="287.2" y="304.2" font-size="8.8" text-anchor="start" font-weight="normal" fill="#111" ><tspan font-style="italic">p</tspan>=0.999</text>
<line x1="272" y1="341.3" x2="296.3" y2="341.3" stroke="#555" stroke-width="1.1" />
<circle cx="284" cy="328.5" r="1.8" fill="#a2f8a0" />
<circle cx="280.5" cy="332.6" r="1.8" fill="#a2f8a0" />
<circle cx="287" cy="332.6" r="1.8" fill="#a2f8a0" />
<circle cx="276.5" cy="336.1" r="1.8" fill="#a2f8a0" />
<circle cx="289.6" cy="336.4" r="1.8" fill="#a2f8a0" />
<circle cx="284" cy="339.6" r="1.8" fill="#a2f8a0" />
<circle cx="277.3" cy="340.4" r="1.8" fill="#a2f8a0" />
<circle cx="290.5" cy="341.3" r="1.8" fill="#a2f8a0" />
<circle cx="274.7" cy="346.2" r="1.8" fill="#a2f8a0" />
<circle cx="280.8" cy="346.2" r="1.8" fill="#a2f8a0" />
<circle cx="286.9" cy="346.2" r="1.8" fill="#a2f8a0" />
<circle cx="293.1" cy="347.4" r="1.8" fill="#a2f8a0" />
<circle cx="284" cy="354.5" r="1.8" fill="#a2f8a0" />
<line x1="320.2" y1="333" x2="320.2" y2="351" stroke="#eef9c8" stroke-width="0.8" />
<line x1="308.3" y1="341.5" x2="332.5" y2="341.5" stroke="#555" stroke-width="1.1" />
<circle cx="316.5" cy="331.3" r="1.6" fill="#e4f7a8" />
<circle cx="323.5" cy="331.3" r="1.6" fill="#e4f7a8" />
<circle cx="320.2" cy="334.5" r="1.6" fill="#e4f7a8" />
<circle cx="311.5" cy="343.5" r="1.6" fill="#e4f7a8" />
<circle cx="317.5" cy="343.5" r="1.6" fill="#e4f7a8" />
<circle cx="324.5" cy="345.5" r="1.6" fill="#e4f7a8" />
<circle cx="329" cy="343" r="1.6" fill="#e4f7a8" />
<circle cx="315" cy="350" r="1.6" fill="#e4f7a8" />
<circle cx="322.5" cy="352.5" r="1.6" fill="#e4f7a8" />
<line x1="356.6" y1="309.5" x2="356.6" y2="343.5" stroke="#7fb4f0" stroke-width="0.9" />
<line x1="350.9" y1="309.5" x2="362.5" y2="309.5" stroke="#7fb4f0" stroke-width="0.9" />
<line x1="350.9" y1="343.5" x2="362.5" y2="343.5" stroke="#7fb4f0" stroke-width="0.9" />
<polygon points="356.6,301 355.18,303.55 358.03,303.55" fill="#7fb4f0"/>
<polygon points="356.6,319 355.18,321.55 358.03,321.55" fill="#7fb4f0"/>
<polygon points="355.2,327.7 353.77,330.25 356.62,330.25" fill="#7fb4f0"/>
<polygon points="358,328.1 356.57,330.65 359.43,330.65" fill="#7fb4f0"/>
<polygon points="356.6,348.5 355.18,351.05 358.03,351.05" fill="#7fb4f0"/>
<line x1="344.5" y1="326.4" x2="368.6" y2="326.4" stroke="#555" stroke-width="1.1" />
<line x1="392.8" y1="276.8" x2="392.8" y2="313.5" stroke="#f4b4b4" stroke-width="0.9" />
<line x1="386.8" y1="276.8" x2="398.9" y2="276.8" stroke="#f4b4b4" stroke-width="0.9" />
<line x1="386.8" y1="313.5" x2="398.9" y2="313.5" stroke="#f4b4b4" stroke-width="0.9" />
<polygon points="391.5,270.5 390.07,267.95 392.93,267.95" fill="#f07c7c"/>
<polygon points="394.5,270.5 393.07,267.95 395.93,267.95" fill="#f07c7c"/>
<polygon points="391.5,283.5 390.07,280.95 392.93,280.95" fill="#f07c7c"/>
<polygon points="394,285.5 392.57,282.95 395.43,282.95" fill="#f07c7c"/>
<polygon points="392,293.5 390.57,290.95 393.43,290.95" fill="#f07c7c"/>
<polygon points="395,293.5 393.57,290.95 396.43,290.95" fill="#f07c7c"/>
<polygon points="392.8,297.5 391.38,294.95 394.23,294.95" fill="#f07c7c"/>
<polygon points="391.5,310.5 390.07,307.95 392.93,307.95" fill="#f07c7c"/>
<polygon points="394.5,312.5 393.07,309.95 395.93,309.95" fill="#f07c7c"/>
<polygon points="392.8,319.5 391.38,316.95 394.23,316.95" fill="#f07c7c"/>
<polygon points="392.8,325.7 391.38,323.15 394.23,323.15" fill="#f07c7c"/>
<line x1="380.9" y1="295.2" x2="405" y2="295.2" stroke="#555" stroke-width="1.1" />
<text x="462.3" y="211.4" font-size="12.8" text-anchor="start" font-weight="bold" fill="#000" >F</text>
<line x1="494.5" y1="242.3" x2="494.5" y2="359.4" stroke="#444" stroke-width="1" />
<line x1="490.7" y1="360.6" x2="494.5" y2="360.6" stroke="#444" stroke-width="1" />
<text x="487.7" y="362" font-size="8.8" text-anchor="end" font-weight="normal" fill="#111" >4</text>
<line x1="490.7" y1="336.95" x2="494.5" y2="336.95" stroke="#444" stroke-width="1" />
<text x="487.7" y="339.14" font-size="8.8" text-anchor="end" font-weight="normal" fill="#111" >5</text>
<line x1="490.7" y1="313.3" x2="494.5" y2="313.3" stroke="#444" stroke-width="1" />
<text x="487.7" y="316.28" font-size="8.8" text-anchor="end" font-weight="normal" fill="#111" >6</text>
<line x1="490.7" y1="289.65" x2="494.5" y2="289.65" stroke="#444" stroke-width="1" />
<text x="487.7" y="293.42" font-size="8.8" text-anchor="end" font-weight="normal" fill="#111" >7</text>
<line x1="490.7" y1="266" x2="494.5" y2="266" stroke="#444" stroke-width="1" />
<text x="487.7" y="270.56" font-size="8.8" text-anchor="end" font-weight="normal" fill="#111" >8</text>
<line x1="490.7" y1="242.35" x2="494.5" y2="242.35" stroke="#444" stroke-width="1" />
<text x="487.7" y="247.7" font-size="8.8" text-anchor="end" font-weight="normal" fill="#111" >9</text>
<line x1="494.5" y1="359.8" x2="658.8" y2="359.8" stroke="#444" stroke-width="1" />
<line x1="494.5" y1="359.8" x2="494.5" y2="363.8" stroke="#444" stroke-width="1" />
<line x1="548.7" y1="359.8" x2="548.7" y2="363.8" stroke="#444" stroke-width="1" />
<line x1="603.4" y1="359.8" x2="603.4" y2="363.8" stroke="#444" stroke-width="1" />
<line x1="658.4" y1="359.8" x2="658.4" y2="363.8" stroke="#444" stroke-width="1" />
<text x="497" y="373.5" font-size="8.6" text-anchor="middle" font-weight="normal" fill="#111" >0</text>
<text x="530" y="373.5" font-size="8.6" text-anchor="middle" font-weight="normal" fill="#111" >200</text>
<text x="563.5" y="373.5" font-size="8.6" text-anchor="middle" font-weight="normal" fill="#111" >400</text>
<text x="596.2" y="373.5" font-size="8.6" text-anchor="middle" font-weight="normal" fill="#111" >600</text>
<text x="627" y="373.5" font-size="8.6" text-anchor="middle" font-weight="normal" fill="#111" >800</text>
<text x="660" y="373.5" font-size="8.6" text-anchor="middle" font-weight="normal" fill="#111" >1000</text>
<text x="585.6" y="387.4" font-size="9" text-anchor="middle" font-weight="normal" fill="#111" >Abundance of CD147</text>
<text transform="translate(473.4,308.6) rotate(-90)" font-size="9" text-anchor="middle" fill="#111" >Exosome(*10<tspan dy="-3" font-size="6">9</tspan><tspan dy="3">)</tspan></text>
<line x1="505" y1="310.7" x2="628.4" y2="284.5" stroke="#333" stroke-width="0.8" />
<circle cx="520.4" cy="275.2" r="2.9" fill="#2b2b2b" />
<circle cx="533.6" cy="254.6" r="2.9" fill="#2b2b2b" />
<circle cx="538.8" cy="250.2" r="2.9" fill="#2b2b2b" />
<circle cx="569" cy="259" r="2.9" fill="#2b2b2b" />
<circle cx="538.8" cy="282.2" r="2.9" fill="#2b2b2b" />
<circle cx="542.7" cy="285.6" r="2.9" fill="#2b2b2b" />
<circle cx="519.6" cy="295.7" r="2.9" fill="#2b2b2b" />
<circle cx="525.7" cy="296.1" r="2.9" fill="#2b2b2b" />
<circle cx="531.3" cy="293.6" r="2.9" fill="#2b2b2b" />
<circle cx="505.4" cy="303.7" r="2.9" fill="#2b2b2b" />
<circle cx="506.8" cy="330.8" r="2.9" fill="#2b2b2b" />
<circle cx="511.5" cy="313.3" r="2.9" fill="#2b2b2b" />
<circle cx="514.3" cy="325.9" r="2.9" fill="#2b2b2b" />
<circle cx="515.9" cy="321.2" r="2.9" fill="#2b2b2b" />
<circle cx="517" cy="322" r="2.9" fill="#2b2b2b" />
<circle cx="517" cy="332.9" r="2.9" fill="#2b2b2b" />
<circle cx="521.2" cy="304.2" r="2.9" fill="#2b2b2b" />
<circle cx="521.2" cy="308" r="2.9" fill="#2b2b2b" />
<circle cx="522" cy="312.9" r="2.9" fill="#2b2b2b" />
<circle cx="527.5" cy="302.4" r="2.9" fill="#2b2b2b" />
<circle cx="527.5" cy="311.2" r="2.9" fill="#2b2b2b" />
<circle cx="527.5" cy="313.8" r="2.9" fill="#2b2b2b" />
<circle cx="535.2" cy="304.2" r="2.9" fill="#2b2b2b" />
<circle cx="536.6" cy="317.1" r="2.9" fill="#2b2b2b" />
<circle cx="540.1" cy="322.4" r="2.9" fill="#2b2b2b" />
<circle cx="542.2" cy="321.2" r="2.9" fill="#2b2b2b" />
<circle cx="548.8" cy="307.7" r="2.9" fill="#2b2b2b" />
<circle cx="554.6" cy="313.8" r="2.9" fill="#2b2b2b" />
<circle cx="559.7" cy="318.2" r="2.9" fill="#2b2b2b" />
<circle cx="573.4" cy="302.8" r="2.9" fill="#2b2b2b" />
<circle cx="580.4" cy="282.6" r="2.9" fill="#2b2b2b" />
<circle cx="587.7" cy="281.8" r="2.9" fill="#2b2b2b" />
<circle cx="627.7" cy="263.4" r="2.9" fill="#2b2b2b" />
<circle cx="607.7" cy="289.8" r="2.9" fill="#2b2b2b" />
<circle cx="594.9" cy="298.7" r="2.9" fill="#2b2b2b" />
<circle cx="628.4" cy="297.8" r="2.9" fill="#2b2b2b" />
<circle cx="610" cy="310.5" r="2.9" fill="#2b2b2b" />
<circle cx="594.9" cy="319.4" r="2.9" fill="#2b2b2b" />
<text x="617.7" y="234.2" font-size="8.8" text-anchor="start" font-weight="normal" fill="#111" ><tspan font-style="italic">r</tspan>=0.3465</text>
<text x="617.7" y="244.8" font-size="8.8" text-anchor="start" font-weight="normal" fill="#111" ><tspan font-style="italic">p</tspan>=0.0285</text>
<text x="2.3" y="410.7" font-size="12.8" text-anchor="start" font-weight="bold" fill="#000" >G</text>
<text x="100.6" y="441.6" font-size="9" text-anchor="end" font-weight="normal" fill="#111" >CD147</text>
<text x="5.4" y="464" font-size="9" text-anchor="start" font-weight="normal" fill="#111" >High glycosylation</text>
<text x="7.8" y="508" font-size="9" text-anchor="start" font-weight="normal" fill="#111" >Low glycosylation</text>
<text x="100.6" y="543.4" font-size="9" text-anchor="end" font-weight="normal" fill="#111" >β-actin</text>
<polyline points="101.8,449.6 80.2,449.6 80.2,471.2 101.8,471.2" fill="none" stroke="#000" stroke-width="1.4" />
<polyline points="101.8,499.2 80.2,499.2 80.2,510.4 101.8,510.4" fill="none" stroke="#000" stroke-width="1.4" />
<defs><filter id="bl1" x="-40%" y="-40%" width="180%" height="180%"><feGaussianBlur stdDeviation="1.8 2.2"/></filter><filter id="bl0" x="-40%" y="-10%" width="180%" height="120%"><feGaussianBlur stdDeviation="1.5 1"/></filter><filter id="bl2" x="-30%" y="-150%" width="160%" height="400%"><feGaussianBlur stdDeviation="1.4 1.0"/></filter><filter id="bl3" x="-30%" y="-100%" width="160%" height="300%"><feGaussianBlur stdDeviation="1.0 0.9"/></filter><linearGradient id="sg" x1="0" y1="0" x2="0" y2="1"><stop offset="0" stop-color="#000" stop-opacity="0.35"/><stop offset="0.3" stop-color="#000" stop-opacity="0.9"/><stop offset="0.65" stop-color="#000" stop-opacity="1"/><stop offset="1" stop-color="#000" stop-opacity="0.5"/></linearGradient><clipPath id="cpA"><rect x="104" y="440.5" width="249" height="81.5"/></clipPath><clipPath id="cpB"><rect x="104" y="527.5" width="249" height="26"/></clipPath></defs>
<rect x="103" y="439.7" width="251" height="83" fill="#f8f8f8"/>
<rect x="103" y="526.5" width="251" height="28" fill="#f8f8f8"/>
<g clip-path="url(#cpA)">
<rect x="112.5" y="441" width="19" height="80" fill="#000" fill-opacity="0.04" filter="url(#bl0)"/>
<rect x="113" y="443" width="18" height="30" rx="2" fill="url(#sg)" fill-opacity="0.22" filter="url(#bl1)"/>
<rect x="113.5" y="470" width="17" height="13" rx="3" fill="#000" fill-opacity="0.08" filter="url(#bl1)"/>
<rect x="113" y="475.8" width="18" height="3.2" fill="#000" fill-opacity="0.09" filter="url(#bl2)"/>
<rect x="113.5" y="498.2" width="17" height="2.6" fill="#000" fill-opacity="0.04" filter="url(#bl2)"/>
<rect x="113" y="506.2" width="18" height="3.6" fill="#000" fill-opacity="0.14" filter="url(#bl2)"/>
<rect x="138.3" y="441" width="19" height="80" fill="#000" fill-opacity="0.04" filter="url(#bl0)"/>
<rect x="138.8" y="443" width="18" height="30" rx="2" fill="url(#sg)" fill-opacity="0.22" filter="url(#bl1)"/>
<rect x="139.3" y="470" width="17" height="13" rx="3" fill="#000" fill-opacity="0.07" filter="url(#bl1)"/>
<rect x="138.8" y="475.8" width="18" height="3.2" fill="#000" fill-opacity="0.06" filter="url(#bl2)"/>
<rect x="139.3" y="498.2" width="17" height="2.6" fill="#000" fill-opacity="0.03" filter="url(#bl2)"/>
<rect x="138.8" y="506.2" width="18" height="3.6" fill="#000" fill-opacity="0.09" filter="url(#bl2)"/>
<rect x="164.7" y="441" width="19" height="80" fill="#000" fill-opacity="0.04" filter="url(#bl0)"/>
<rect x="165.2" y="443" width="18" height="30" rx="2" fill="url(#sg)" fill-opacity="0.2" filter="url(#bl1)"/>
<rect x="165.7" y="470" width="17" height="13" rx="3" fill="#000" fill-opacity="0.06" filter="url(#bl1)"/>
<rect x="165.2" y="475.8" width="18" height="3.2" fill="#000" fill-opacity="0.06" filter="url(#bl2)"/>
<rect x="165.7" y="498.2" width="17" height="2.6" fill="#000" fill-opacity="0.03" filter="url(#bl2)"/>
<rect x="165.2" y="506.2" width="18" height="3.6" fill="#000" fill-opacity="0.06" filter="url(#bl2)"/>
<rect x="191.7" y="441" width="19" height="80" fill="#000" fill-opacity="0.04" filter="url(#bl0)"/>
<rect x="192.2" y="443" width="18" height="30" rx="2" fill="url(#sg)" fill-opacity="0.28" filter="url(#bl1)"/>
<rect x="192.7" y="470" width="17" height="13" rx="3" fill="#000" fill-opacity="0.1" filter="url(#bl1)"/>
<rect x="192.2" y="475.8" width="18" height="3.2" fill="#000" fill-opacity="0.09" filter="url(#bl2)"/>
<rect x="192.7" y="498.2" width="17" height="2.6" fill="#000" fill-opacity="0.12" filter="url(#bl2)"/>
<rect x="192.2" y="506.2" width="18" height="3.6" fill="#000" fill-opacity="0.33" filter="url(#bl2)"/>
<rect x="217.5" y="441" width="19" height="80" fill="#000" fill-opacity="0.04" filter="url(#bl0)"/>
<rect x="218" y="443" width="18" height="30" rx="2" fill="url(#sg)" fill-opacity="0.85" filter="url(#bl1)"/>
<rect x="219" y="452" width="16" height="21" rx="3" fill="#000" fill-opacity="0.9" filter="url(#bl1)"/>
<rect x="218.5" y="470" width="17" height="16" rx="3" fill="#000" fill-opacity="0.5" filter="url(#bl1)"/>
<rect x="218.5" y="498.2" width="17" height="2.6" fill="#000" fill-opacity="0.45" filter="url(#bl2)"/>
<rect x="218" y="506.2" width="18" height="3.6" fill="#000" fill-opacity="0.62" filter="url(#bl2)"/>
<rect x="242.8" y="441" width="19" height="80" fill="#000" fill-opacity="0.04" filter="url(#bl0)"/>
<rect x="243.3" y="443" width="18" height="30" rx="2" fill="url(#sg)" fill-opacity="0.22" filter="url(#bl1)"/>
<rect x="243.8" y="470" width="17" height="13" rx="3" fill="#000" fill-opacity="0.07" filter="url(#bl1)"/>
<rect x="243.3" y="475.8" width="18" height="3.2" fill="#000" fill-opacity="0.06" filter="url(#bl2)"/>
<rect x="243.8" y="498.2" width="17" height="2.6" fill="#000" fill-opacity="0.06" filter="url(#bl2)"/>
<rect x="243.3" y="506.2" width="18" height="3.6" fill="#000" fill-opacity="0.22" filter="url(#bl2)"/>
<rect x="269.1" y="441" width="19" height="80" fill="#000" fill-opacity="0.04" filter="url(#bl0)"/>
<rect x="269.6" y="443" width="18" height="30" rx="2" fill="url(#sg)" fill-opacity="0.28" filter="url(#bl1)"/>
<rect x="270.1" y="470" width="17" height="13" rx="3" fill="#000" fill-opacity="0.1" filter="url(#bl1)"/>
<rect x="269.6" y="475.8" width="18" height="3.2" fill="#000" fill-opacity="0.08" filter="url(#bl2)"/>
<rect x="270.1" y="498.2" width="17" height="2.6" fill="#000" fill-opacity="0.15" filter="url(#bl2)"/>
<rect x="269.6" y="506.2" width="18" height="3.6" fill="#000" fill-opacity="0.36" filter="url(#bl2)"/>
<rect x="295" y="441" width="19" height="80" fill="#000" fill-opacity="0.04" filter="url(#bl0)"/>
<rect x="295.5" y="443" width="18" height="30" rx="2" fill="url(#sg)" fill-opacity="0.3" filter="url(#bl1)"/>
<rect x="296" y="470" width="17" height="13" rx="3" fill="#000" fill-opacity="0.12" filter="url(#bl1)"/>
<rect x="295.5" y="475.8" width="18" height="3.2" fill="#000" fill-opacity="0.09" filter="url(#bl2)"/>
<rect x="296" y="498.2" width="17" height="2.6" fill="#000" fill-opacity="0.12" filter="url(#bl2)"/>
<rect x="295.5" y="506.2" width="18" height="3.6" fill="#000" fill-opacity="0.28" filter="url(#bl2)"/>
<rect x="321.5" y="441" width="19" height="80" fill="#000" fill-opacity="0.04" filter="url(#bl0)"/>
<rect x="322" y="443" width="18" height="30" rx="2" fill="url(#sg)" fill-opacity="0.45" filter="url(#bl1)"/>
<rect x="323" y="457" width="16" height="18" rx="3" fill="#000" fill-opacity="0.55" filter="url(#bl1)"/>
<rect x="322.5" y="470" width="17" height="16" rx="3" fill="#000" fill-opacity="0.45" filter="url(#bl1)"/>
<rect x="322.5" y="498.2" width="17" height="2.6" fill="#000" fill-opacity="0.28" filter="url(#bl2)"/>
<rect x="322" y="506.2" width="18" height="3.6" fill="#000" fill-opacity="0.38" filter="url(#bl2)"/>
</g>
<g clip-path="url(#cpB)">
<rect x="110.65" y="538.2" width="24.7" height="6.6" rx="3" fill="#000" fill-opacity="0.78" filter="url(#bl3)"/>
<rect x="140" y="538.4" width="19" height="6" rx="3" fill="#000" fill-opacity="0.8" filter="url(#bl3)"/>
<rect x="163.8" y="538.4" width="21.8" height="5.8" rx="3" fill="#000" fill-opacity="0.74" filter="url(#bl3)"/>
<rect x="190.35" y="538" width="21.9" height="6.6" rx="3" fill="#000" fill-opacity="0.8" filter="url(#bl3)"/>
<rect x="215.3" y="538" width="22.4" height="7" rx="3" fill="#000" fill-opacity="0.88" filter="url(#bl3)"/>
<rect x="240.9" y="538" width="22.4" height="6.6" rx="3" fill="#000" fill-opacity="0.85" filter="url(#bl3)"/>
<rect x="267.5" y="538.6" width="22.4" height="5.6" rx="3" fill="#000" fill-opacity="0.83" filter="url(#bl3)"/>
<rect x="293.15" y="537" width="24.5" height="6.8" rx="3" fill="#000" fill-opacity="0.87" filter="url(#bl3)"/>
<rect x="321.7" y="537.4" width="23.4" height="6.8" rx="3" fill="#000" fill-opacity="0.86" filter="url(#bl3)"/>
</g>
<rect x="104" y="439.9" width="249.8" height="82.7" fill="none" stroke="#000" stroke-width="2"/>
<rect x="104" y="525.8" width="249.8" height="28.2" fill="none" stroke="#000" stroke-width="2"/>
<line x1="353.8" y1="448.8" x2="360.4" y2="448.8" stroke="#000" stroke-width="1.4" />
<text x="363.9" y="452" font-size="9" text-anchor="start" font-weight="normal" fill="#111" >75kDa</text>
<line x1="353.8" y1="467.9" x2="360.4" y2="467.9" stroke="#000" stroke-width="1.4" />
<text x="363.9" y="471.1" font-size="9" text-anchor="start" font-weight="normal" fill="#111" >50kDa</text>
<line x1="353.8" y1="493.7" x2="360.4" y2="493.7" stroke="#000" stroke-width="1.4" />
<text x="363.9" y="496.9" font-size="9" text-anchor="start" font-weight="normal" fill="#111" >37kDa</text>
<line x1="353.8" y1="535.4" x2="360.4" y2="535.4" stroke="#000" stroke-width="1.4" />
<text x="363.9" y="538.6" font-size="9" text-anchor="start" font-weight="normal" fill="#111" >42kDa</text>
<text transform="translate(126.4,561.6) rotate(-43)" font-size="9.2" text-anchor="end" fill="#111" >BEAS-2B</text>
<text transform="translate(152.2,561.6) rotate(-43)" font-size="9.2" text-anchor="end" fill="#111" >H1975</text>
<text transform="translate(178.6,561.6) rotate(-43)" font-size="9.2" text-anchor="end" fill="#111" >A549</text>
<text transform="translate(205.6,561.6) rotate(-43)" font-size="9.2" text-anchor="end" fill="#111" >H2170</text>
<text transform="translate(231.4,561.6) rotate(-43)" font-size="9.2" text-anchor="end" fill="#111" >H460</text>
<text transform="translate(256.7,561.6) rotate(-43)" font-size="9.2" text-anchor="end" fill="#111" >H661</text>
<text transform="translate(283,561.6) rotate(-43)" font-size="9.2" text-anchor="end" fill="#111" >H226</text>
<text transform="translate(308.9,561.6) rotate(-43)" font-size="9.2" text-anchor="end" fill="#111" >H358</text>
<text transform="translate(335.4,561.6) rotate(-43)" font-size="9.2" text-anchor="end" fill="#111" >H292</text>
<text x="462.3" y="411" font-size="12.8" text-anchor="start" font-weight="bold" fill="#000" >H</text>
<line x1="499.9" y1="418.6" x2="499.9" y2="540.3" stroke="#444" stroke-width="1" />
<line x1="494.8" y1="540.3" x2="499.9" y2="540.3" stroke="#444" stroke-width="1" />
<text x="493.6" y="543.6" font-size="9.2" text-anchor="end" font-weight="normal" fill="#111" >2.0</text>
<line x1="494.8" y1="509.87" x2="499.9" y2="509.87" stroke="#444" stroke-width="1" />
<text x="493.6" y="513.17" font-size="9.2" text-anchor="end" font-weight="normal" fill="#111" >2.5</text>
<line x1="494.8" y1="479.45" x2="499.9" y2="479.45" stroke="#444" stroke-width="1" />
<text x="493.6" y="482.75" font-size="9.2" text-anchor="end" font-weight="normal" fill="#111" >3.0</text>
<line x1="494.8" y1="449.02" x2="499.9" y2="449.02" stroke="#444" stroke-width="1" />
<text x="493.6" y="452.32" font-size="9.2" text-anchor="end" font-weight="normal" fill="#111" >3.5</text>
<line x1="494.8" y1="418.6" x2="499.9" y2="418.6" stroke="#444" stroke-width="1" />
<text x="493.6" y="421.9" font-size="9.2" text-anchor="end" font-weight="normal" fill="#111" >4.0</text>
<text transform="translate(474,477.8) rotate(-90)" font-size="9" text-anchor="middle" fill="#111" >Exosome(*10<tspan dy="-3" font-size="6">9</tspan><tspan dy="3">)</tspan></text>
<rect x="505.2" y="505.62" width="12.8" height="34.68" fill="#d3d3d3" stroke="#555" stroke-width="0.9"/>
<rect x="524.4" y="496.49" width="12.8" height="43.81" fill="#cfffcf" stroke="#555" stroke-width="0.9"/>
<rect x="544" y="506.83" width="12.8" height="33.47" fill="#ecffbf" stroke="#555" stroke-width="0.9"/>
<rect x="563.2" y="488.58" width="12.8" height="51.72" fill="#99c6f8" stroke="#555" stroke-width="0.9"/>
<rect x="582.3" y="429.55" width="12.8" height="110.75" fill="#f29aa0" stroke="#555" stroke-width="0.9"/>
<rect x="601.3" y="477.02" width="12.8" height="63.28" fill="#cfffcf" stroke="#555" stroke-width="0.9"/>
<rect x="620.6" y="476.41" width="12.8" height="63.89" fill="#ecffbf" stroke="#555" stroke-width="0.9"/>
<rect x="639.6" y="474.58" width="12.8" height="65.72" fill="#99c6f8" stroke="#555" stroke-width="0.9"/>
<rect x="658.9" y="502.27" width="12.8" height="38.03" fill="#f29aa0" stroke="#555" stroke-width="0.9"/>
<line x1="499.9" y1="540.3" x2="678.5" y2="540.3" stroke="#444" stroke-width="1" />
<line x1="511.6" y1="540.3" x2="511.6" y2="544.6" stroke="#444" stroke-width="1" />
<line x1="530.8" y1="540.3" x2="530.8" y2="544.6" stroke="#444" stroke-width="1" />
<line x1="550.4" y1="540.3" x2="550.4" y2="544.6" stroke="#444" stroke-width="1" />
<line x1="569.6" y1="540.3" x2="569.6" y2="544.6" stroke="#444" stroke-width="1" />
<line x1="588.7" y1="540.3" x2="588.7" y2="544.6" stroke="#444" stroke-width="1" />
<line x1="607.7" y1="540.3" x2="607.7" y2="544.6" stroke="#444" stroke-width="1" />
<line x1="627" y1="540.3" x2="627" y2="544.6" stroke="#444" stroke-width="1" />
<line x1="646" y1="540.3" x2="646" y2="544.6" stroke="#444" stroke-width="1" />
<line x1="665.3" y1="540.3" x2="665.3" y2="544.6" stroke="#444" stroke-width="1" />
<circle cx="508.6" cy="503.2" r="2.5" fill="none" stroke="#111" stroke-width="1.5"/>
<circle cx="512" cy="504.6" r="2.5" fill="none" stroke="#111" stroke-width="1.5"/>
<circle cx="515.6" cy="506.4" r="2.5" fill="none" stroke="#111" stroke-width="1.5"/>
<rect x="525" y="494.1" width="5" height="5" fill="none" stroke="#111" stroke-width="1.4"/>
<rect x="528.7" y="494.5" width="5" height="5" fill="none" stroke="#111" stroke-width="1.4"/>
<rect x="532.1" y="496.1" width="5" height="5" fill="none" stroke="#111" stroke-width="1.4"/>
<polygon points="547.2,502.05 544.7,506.3 549.7,506.3" fill="#111" stroke="#111" stroke-width="1" stroke-linejoin="miter"/>
<polygon points="550.4,502.25 547.9,506.5 552.9,506.5" fill="#111" stroke="#111" stroke-width="1" stroke-linejoin="miter"/>
<polygon points="554.4,504.85 551.9,509.1 556.9,509.1" fill="none" stroke="#111" stroke-width="1" stroke-linejoin="miter"/>
<line x1="569.5" y1="476" x2="569.5" y2="504.5" stroke="#111" stroke-width="1" />
<line x1="566.2" y1="476" x2="572.8" y2="476" stroke="#111" stroke-width="1" />
<polygon points="566.2,481.66 563.2,476.56 569.2,476.56" fill="none" stroke="#111" stroke-width="1.3" stroke-linejoin="miter"/>
<polygon points="573,487.66 570,482.56 576,482.56" fill="none" stroke="#111" stroke-width="1.3" stroke-linejoin="miter"/>
<polygon points="569.5,505.66 566.5,500.56 572.5,500.56" fill="none" stroke="#111" stroke-width="1.3" stroke-linejoin="miter"/>
<polygon points="585,426.4 587.3,429 585,431.6 582.7,429" fill="#111"/>
<polygon points="589,426.4 591.3,429 589,431.6 586.7,429" fill="#111"/>
<polygon points="593,426.4 595.3,429 593,431.6 590.7,429" fill="#111"/>
<circle cx="607.9" cy="472.3" r="2.4" fill="none" stroke="#111" stroke-width="0.8"/>
<circle cx="604.3" cy="477" r="2.4" fill="none" stroke="#111" stroke-width="0.8"/>
<circle cx="611.3" cy="480.1" r="2.4" fill="none" stroke="#111" stroke-width="0.8"/>
<rect x="621.4" y="471" width="4.6" height="4.6" fill="none" stroke="#111" stroke-width="0.8"/>
<rect x="624.6" y="473.9" width="4.6" height="4.6" fill="none" stroke="#111" stroke-width="0.8"/>
<rect x="627.5" y="476.1" width="4.6" height="4.6" fill="none" stroke="#111" stroke-width="0.8"/>
<polygon points="643,469.65 640.5,473.9 645.5,473.9" fill="none" stroke="#111" stroke-width="0.8" stroke-linejoin="miter"/>
<polygon points="645.9,472.85 643.4,477.1 648.4,477.1" fill="none" stroke="#111" stroke-width="0.8" stroke-linejoin="miter"/>
<polygon points="649.5,476.05 647,480.3 652,480.3" fill="none" stroke="#111" stroke-width="0.8" stroke-linejoin="miter"/>
<polygon points="661.9,501.35 659.4,497.1 664.4,497.1" fill="none" stroke="#111" stroke-width="0.8" stroke-linejoin="miter"/>
<polygon points="665.6,505.55 663.1,501.3 668.1,501.3" fill="none" stroke="#111" stroke-width="0.8" stroke-linejoin="miter"/>
<polygon points="668.5,506.45 666,502.2 671,502.2" fill="none" stroke="#111" stroke-width="0.8" stroke-linejoin="miter"/>
<text transform="translate(515,551.6) rotate(-44)" font-size="8.8" text-anchor="end" fill="#111" >BEAS-2B</text>
<text transform="translate(534.2,551.6) rotate(-44)" font-size="8.8" text-anchor="end" fill="#111" >H1975</text>
<text transform="translate(553.8,551.6) rotate(-44)" font-size="8.8" text-anchor="end" fill="#111" >A549</text>
<text transform="translate(573,551.6) rotate(-44)" font-size="8.8" text-anchor="end" fill="#111" >H2170</text>
<text transform="translate(592.1,551.6) rotate(-44)" font-size="8.8" text-anchor="end" fill="#111" >H460</text>
<text transform="translate(611.1,551.6) rotate(-44)" font-size="8.8" text-anchor="end" fill="#111" >H661</text>
<text transform="translate(630.4,551.6) rotate(-44)" font-size="8.8" text-anchor="end" fill="#111" >H226</text>
<text transform="translate(649.4,551.6) rotate(-44)" font-size="8.8" text-anchor="end" fill="#111" >H358</text>
<text transform="translate(668.7,551.6) rotate(-44)" font-size="8.8" text-anchor="end" fill="#111" >H292</text>
<text x="2" y="608.2" font-size="12.8" text-anchor="start" font-weight="bold" fill="#000" >I</text>
<line x1="32.4" y1="625.9" x2="32.4" y2="748.6" stroke="#444" stroke-width="1" />
<line x1="26.8" y1="748.6" x2="32.4" y2="748.6" stroke="#444" stroke-width="1" />
<text x="24.9" y="751.7" font-size="8.6" text-anchor="end" font-weight="normal" fill="#111" >0</text>
<line x1="26.8" y1="707.71" x2="32.4" y2="707.71" stroke="#444" stroke-width="1" />
<text x="24.9" y="710.81" font-size="8.6" text-anchor="end" font-weight="normal" fill="#111" >5</text>
<line x1="26.8" y1="666.82" x2="32.4" y2="666.82" stroke="#444" stroke-width="1" />
<text x="24.9" y="669.92" font-size="8.6" text-anchor="end" font-weight="normal" fill="#111" >10</text>
<line x1="26.8" y1="625.93" x2="32.4" y2="625.93" stroke="#444" stroke-width="1" />
<text x="24.9" y="629.03" font-size="8.6" text-anchor="end" font-weight="normal" fill="#111" >15</text>
<line x1="32.4" y1="748.5" x2="240.8" y2="748.5" stroke="#444" stroke-width="1" />
<line x1="47" y1="748.6" x2="47" y2="752.8" stroke="#444" stroke-width="1" />
<line x1="69.4" y1="748.6" x2="69.4" y2="752.8" stroke="#444" stroke-width="1" />
<line x1="91.8" y1="748.6" x2="91.8" y2="752.8" stroke="#444" stroke-width="1" />
<line x1="114.2" y1="748.6" x2="114.2" y2="752.8" stroke="#444" stroke-width="1" />
<line x1="136.6" y1="748.6" x2="136.6" y2="752.8" stroke="#444" stroke-width="1" />
<line x1="159" y1="748.6" x2="159" y2="752.8" stroke="#444" stroke-width="1" />
<line x1="181.3" y1="748.6" x2="181.3" y2="752.8" stroke="#444" stroke-width="1" />
<line x1="203.6" y1="748.6" x2="203.6" y2="752.8" stroke="#444" stroke-width="1" />
<line x1="225.9" y1="748.6" x2="225.9" y2="752.8" stroke="#444" stroke-width="1" />
<text transform="translate(8.9,684.9) rotate(-90)" font-size="8.8" text-anchor="middle" fill="#111" >Exosome/cell (*10<tspan dy="-3" font-size="6">3</tspan><tspan dy="3">)</tspan></text>
<circle cx="43.9" cy="722.9" r="2.9" fill="#111" />
<circle cx="47" cy="724.6" r="2.9" fill="#111" />
<circle cx="51.2" cy="727.1" r="2.9" fill="#111" />
<line x1="39.5" y1="725.6" x2="54.5" y2="725.6" stroke="#111" stroke-width="1.1" />
<line x1="47" y1="723.6" x2="47" y2="727.6" stroke="#111" stroke-width="0.9" />
<line x1="43.2" y1="723.6" x2="50.8" y2="723.6" stroke="#111" stroke-width="0.9" />
<line x1="43.2" y1="727.6" x2="50.8" y2="727.6" stroke="#111" stroke-width="0.9" />
<circle cx="65.8" cy="693.2" r="2.9" fill="#111" />
<circle cx="69.4" cy="699.5" r="2.9" fill="#111" />
<circle cx="73.6" cy="701.2" r="2.9" fill="#111" />
<line x1="61.9" y1="698" x2="76.9" y2="698" stroke="#111" stroke-width="1.1" />
<line x1="69.4" y1="694.3" x2="69.4" y2="701.6" stroke="#111" stroke-width="0.9" />
<line x1="65.6" y1="694.3" x2="73.2" y2="694.3" stroke="#111" stroke-width="0.9" />
<line x1="65.6" y1="701.6" x2="73.2" y2="701.6" stroke="#111" stroke-width="0.9" />
<circle cx="88.8" cy="708.9" r="2.9" fill="#111" />
<circle cx="95.7" cy="714.5" r="2.9" fill="#111" />
<circle cx="92" cy="722.9" r="2.9" fill="#111" />
<line x1="84.3" y1="715.6" x2="99.3" y2="715.6" stroke="#111" stroke-width="1.1" />
<line x1="91.8" y1="707.9" x2="91.8" y2="721.4" stroke="#111" stroke-width="0.9" />
<line x1="88" y1="707.9" x2="95.6" y2="707.9" stroke="#111" stroke-width="0.9" />
<line x1="88" y1="721.4" x2="95.6" y2="721.4" stroke="#111" stroke-width="0.9" />
<circle cx="114.5" cy="673.4" r="2.9" fill="#111" />
<circle cx="110.3" cy="680.3" r="2.9" fill="#111" />
<circle cx="118.1" cy="683.4" r="2.9" fill="#111" />
<line x1="106.7" y1="679.2" x2="121.7" y2="679.2" stroke="#111" stroke-width="1.1" />
<line x1="114.2" y1="675" x2="114.2" y2="683.3" stroke="#111" stroke-width="0.9" />
<line x1="110.4" y1="675" x2="118" y2="675" stroke="#111" stroke-width="0.9" />
<line x1="110.4" y1="683.3" x2="118" y2="683.3" stroke="#111" stroke-width="0.9" />
<circle cx="136.6" cy="651.8" r="2.9" fill="#111" />
<circle cx="132.8" cy="665.1" r="2.9" fill="#111" />
<circle cx="140.4" cy="667.5" r="2.9" fill="#111" />
<line x1="129.1" y1="661.3" x2="144.1" y2="661.3" stroke="#111" stroke-width="1.1" />
<line x1="136.6" y1="651.8" x2="136.6" y2="669.4" stroke="#111" stroke-width="0.9" />
<line x1="132.8" y1="651.8" x2="140.4" y2="651.8" stroke="#111" stroke-width="0.9" />
<line x1="132.8" y1="669.4" x2="140.4" y2="669.4" stroke="#111" stroke-width="0.9" />
<circle cx="159" cy="690.3" r="2.9" fill="#111" />
<circle cx="155.2" cy="696.9" r="2.9" fill="#111" />
<circle cx="162.8" cy="700.2" r="2.9" fill="#111" />
<line x1="151.5" y1="695.4" x2="166.5" y2="695.4" stroke="#111" stroke-width="1.1" />
<line x1="159" y1="691" x2="159" y2="699.5" stroke="#111" stroke-width="0.9" />
<line x1="155.2" y1="691" x2="162.8" y2="691" stroke="#111" stroke-width="0.9" />
<line x1="155.2" y1="699.5" x2="162.8" y2="699.5" stroke="#111" stroke-width="0.9" />
<circle cx="177.4" cy="689.9" r="2.9" fill="#111" />
<circle cx="181.2" cy="692.2" r="2.9" fill="#111" />
<circle cx="185" cy="696.4" r="2.9" fill="#111" />
<line x1="173.8" y1="692.6" x2="188.8" y2="692.6" stroke="#111" stroke-width="1.1" />
<line x1="181.3" y1="690" x2="181.3" y2="695" stroke="#111" stroke-width="0.9" />
<line x1="177.5" y1="690" x2="185.1" y2="690" stroke="#111" stroke-width="0.9" />
<line x1="177.5" y1="695" x2="185.1" y2="695" stroke="#111" stroke-width="0.9" />
<circle cx="203.4" cy="669.4" r="2.9" fill="#111" />
<circle cx="199.6" cy="677" r="2.9" fill="#111" />
<circle cx="207.2" cy="682.1" r="2.9" fill="#111" />
<line x1="196.1" y1="676.1" x2="211.1" y2="676.1" stroke="#111" stroke-width="1.1" />
<line x1="203.6" y1="669.4" x2="203.6" y2="682.7" stroke="#111" stroke-width="0.9" />
<line x1="199.8" y1="669.4" x2="207.4" y2="669.4" stroke="#111" stroke-width="0.9" />
<line x1="199.8" y1="682.7" x2="207.4" y2="682.7" stroke="#111" stroke-width="0.9" />
<circle cx="222.4" cy="673.2" r="2.9" fill="#111" />
<circle cx="226.2" cy="673.8" r="2.9" fill="#111" />
<circle cx="229.6" cy="679.5" r="2.9" fill="#111" />
<line x1="218.4" y1="675.1" x2="233.4" y2="675.1" stroke="#111" stroke-width="1.1" />
<line x1="225.9" y1="673" x2="225.9" y2="677.5" stroke="#111" stroke-width="0.9" />
<line x1="222.1" y1="673" x2="229.7" y2="673" stroke="#111" stroke-width="0.9" />
<line x1="222.1" y1="677.5" x2="229.7" y2="677.5" stroke="#111" stroke-width="0.9" />
<text transform="translate(50,761.8) rotate(-44)" font-size="9.3" text-anchor="end" fill="#111" >BEAS-2B</text>
<text transform="translate(72.4,761.8) rotate(-44)" font-size="9.3" text-anchor="end" fill="#111" >H1975</text>
<text transform="translate(94.8,761.8) rotate(-44)" font-size="9.3" text-anchor="end" fill="#111" >A549</text>
<text transform="translate(117.2,761.8) rotate(-44)" font-size="9.3" text-anchor="end" fill="#111" >H2170</text>
<text transform="translate(139.6,761.8) rotate(-44)" font-size="9.3" text-anchor="end" fill="#111" >H460</text>
<text transform="translate(162,761.8) rotate(-44)" font-size="9.3" text-anchor="end" fill="#111" >H661</text>
<text transform="translate(184.3,761.8) rotate(-44)" font-size="9.3" text-anchor="end" fill="#111" >H226</text>
<text transform="translate(206.6,761.8) rotate(-44)" font-size="9.3" text-anchor="end" fill="#111" >H358</text>
<text transform="translate(228.9,761.8) rotate(-44)" font-size="9.3" text-anchor="end" fill="#111" >H292</text>
<text x="276.8" y="614.4" font-size="12.8" text-anchor="start" font-weight="bold" fill="#000" >J</text>
<line x1="312.7" y1="624.3" x2="312.7" y2="746.4" stroke="#444" stroke-width="1" />
<line x1="308.6" y1="746.4" x2="312.7" y2="746.4" stroke="#444" stroke-width="1" />
<text x="305.6" y="749.5" font-size="8.6" text-anchor="end" font-weight="normal" fill="#111" >0</text>
<line x1="308.6" y1="705.7" x2="312.7" y2="705.7" stroke="#444" stroke-width="1" />
<text x="305.6" y="708.8" font-size="8.6" text-anchor="end" font-weight="normal" fill="#111" >5</text>
<line x1="308.6" y1="665" x2="312.7" y2="665" stroke="#444" stroke-width="1" />
<text x="305.6" y="668.1" font-size="8.6" text-anchor="end" font-weight="normal" fill="#111" >10</text>
<line x1="308.6" y1="624.3" x2="312.7" y2="624.3" stroke="#444" stroke-width="1" />
<text x="305.6" y="627.4" font-size="8.6" text-anchor="end" font-weight="normal" fill="#111" >15</text>
<line x1="312.7" y1="746.2" x2="483.6" y2="746.2" stroke="#444" stroke-width="1" />
<line x1="312.5" y1="746.2" x2="312.5" y2="749.8" stroke="#444" stroke-width="1" />
<text x="317.6" y="761.8" font-size="8.9" text-anchor="middle" font-weight="normal" fill="#111" >1.5</text>
<line x1="369.8" y1="746.2" x2="369.8" y2="749.8" stroke="#444" stroke-width="1" />
<text x="370.6" y="761.8" font-size="8.9" text-anchor="middle" font-weight="normal" fill="#111" >2.0</text>
<line x1="427.1" y1="746.2" x2="427.1" y2="749.8" stroke="#444" stroke-width="1" />
<text x="427.6" y="761.8" font-size="8.9" text-anchor="middle" font-weight="normal" fill="#111" >2.5</text>
<line x1="483.4" y1="746.2" x2="483.4" y2="749.8" stroke="#444" stroke-width="1" />
<text x="485.6" y="761.8" font-size="8.9" text-anchor="middle" font-weight="normal" fill="#111" >3.0</text>
<text x="406.6" y="776.5" font-size="9" text-anchor="middle" font-weight="normal" fill="#111" >CD147 protein/IntDen</text>
<text transform="translate(284.6,689.2) rotate(-90)" font-size="9" text-anchor="middle" fill="#111" >Exosome/cell (*10<tspan dy="-3" font-size="6">3</tspan><tspan dy="3">)</tspan></text>
<line x1="325.9" y1="721.7" x2="430.1" y2="666.7" stroke="#333" stroke-width="0.8" />
<circle cx="323.3" cy="721.1" r="2.8" fill="#2b2b2b" />
<circle cx="324.9" cy="725.3" r="2.8" fill="#2b2b2b" />
<circle cx="326.5" cy="724.1" r="2.8" fill="#2b2b2b" />
<circle cx="356.9" cy="691.7" r="2.8" fill="#2b2b2b" />
<circle cx="359" cy="706.9" r="2.8" fill="#2b2b2b" />
<circle cx="362.8" cy="721.7" r="2.8" fill="#2b2b2b" />
<circle cx="363.4" cy="699.4" r="2.8" fill="#2b2b2b" />
<circle cx="367.5" cy="697.7" r="2.8" fill="#2b2b2b" />
<circle cx="370.5" cy="695.3" r="2.8" fill="#2b2b2b" />
<circle cx="376" cy="697.7" r="2.8" fill="#2b2b2b" />
<circle cx="379.7" cy="688.6" r="2.8" fill="#2b2b2b" />
<circle cx="381.3" cy="688.6" r="2.8" fill="#2b2b2b" />
<circle cx="379.7" cy="694.7" r="2.8" fill="#2b2b2b" />
<circle cx="380.3" cy="671" r="2.8" fill="#2b2b2b" />
<circle cx="380.7" cy="711.9" r="2.8" fill="#2b2b2b" />
<circle cx="386.1" cy="678.5" r="2.8" fill="#2b2b2b" />
<circle cx="433.5" cy="650.2" r="2.8" fill="#2b2b2b" />
<circle cx="429.4" cy="663.3" r="2.8" fill="#2b2b2b" />
<circle cx="432.4" cy="665.1" r="2.8" fill="#2b2b2b" />
<circle cx="417" cy="667.4" r="2.8" fill="#2b2b2b" />
<circle cx="428.3" cy="671.3" r="2.8" fill="#2b2b2b" />
<circle cx="434.7" cy="675.3" r="2.8" fill="#2b2b2b" />
<circle cx="435.1" cy="677.4" r="2.8" fill="#2b2b2b" />
<circle cx="386.3" cy="678.5" r="2.8" fill="#2b2b2b" />
<circle cx="392.2" cy="681.5" r="2.8" fill="#2b2b2b" />
<circle cx="409.7" cy="680.3" r="2.8" fill="#2b2b2b" />
<circle cx="392.2" cy="690.1" r="2.8" fill="#2b2b2b" />
<circle cx="376.4" cy="697.8" r="2.8" fill="#2b2b2b" />
<text x="422.6" y="627.5" font-size="8.8" text-anchor="start" font-weight="normal" fill="#111" ><tspan font-style="italic">r</tspan>=0.9243</text>
<text x="422.6" y="638.6" font-size="8.8" text-anchor="start" font-weight="normal" fill="#111" ><tspan font-style="italic">p</tspan>=0.0004</text>
</svg>
</body></html>
